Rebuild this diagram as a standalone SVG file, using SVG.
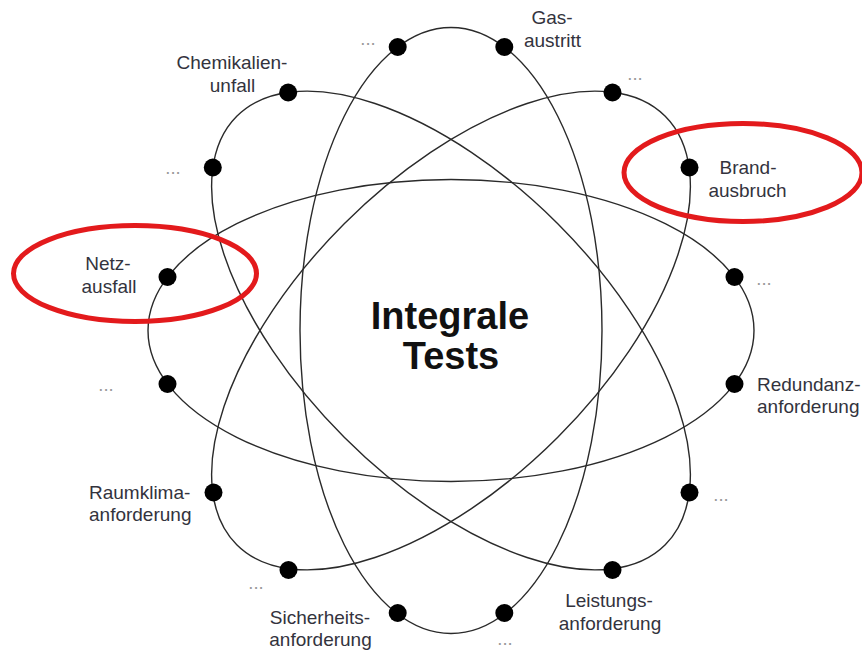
<svg xmlns="http://www.w3.org/2000/svg" width="862" height="650" viewBox="0 0 862 650">
  <style>
    .orbit { fill: none; stroke: #2a2a2a; stroke-width: 1.4; }
    .dot { fill: #000; }
    .lbl { font-family: "Liberation Sans", Arial, sans-serif; font-size: 19px; fill: #33333d; }
    .more { font-family: "Liberation Sans", Arial, sans-serif; font-size: 18.5px; fill: #9a9a9a; }
    .title { font-family: "Liberation Sans", Arial, sans-serif; font-size: 38px; font-weight: bold; fill: #111; text-anchor: middle; }
    .hl { fill: none; stroke: #e31a1c; stroke-width: 5; }
  </style>
  <rect width="862" height="650" fill="#fff"/>

  <g id="connectors">
    <ellipse class="orbit" cx="451" cy="330.5" rx="303" ry="151"/>
    <ellipse class="orbit" cx="451" cy="330.5" rx="303" ry="151" transform="rotate(90 451 330.5)"/>
    <ellipse class="orbit" cx="451" cy="330.5" rx="303" ry="151" transform="rotate(45 451 330.5)"/>
    <ellipse class="orbit" cx="451" cy="330.5" rx="303" ry="151" transform="rotate(135 451 330.5)"/>
  </g>

  <g id="title">
    <text class="title" x="450" y="328.5">Integrale</text>
    <text class="title" x="451" y="368.5">Tests</text>
  </g>

  <g id="netzausfall">
    <circle class="dot" cx="167.5" cy="277" r="9"/>
    <text class="lbl" x="108" y="270" text-anchor="middle">Netz-</text>
    <text class="lbl" x="109" y="293" text-anchor="middle">ausfall</text>
  </g>
  <g id="dots-left">
    <circle class="dot" cx="167.5" cy="384" r="9"/>
    <text class="more" x="106" y="391" text-anchor="middle">...</text>
  </g>
  <g id="dots-right">
    <circle class="dot" cx="734.5" cy="277" r="9"/>
    <text class="more" x="764" y="285" text-anchor="middle">...</text>
  </g>
  <g id="redundanz">
    <circle class="dot" cx="734.5" cy="384" r="9"/>
    <text class="lbl" x="757" y="391">Redundanz-</text>
    <text class="lbl" x="757" y="413">anforderung</text>
  </g>

  <g id="dots-top">
    <circle class="dot" cx="397.7" cy="47" r="9"/>
    <text class="more" x="368" y="45" text-anchor="middle">...</text>
  </g>
  <g id="gasaustritt">
    <circle class="dot" cx="504.3" cy="47" r="9"/>
    <text class="lbl" x="552" y="24" text-anchor="middle">Gas-</text>
    <text class="lbl" x="552.5" y="47" text-anchor="middle">austritt</text>
  </g>
  <g id="sicherheit">
    <circle class="dot" cx="397.7" cy="613" r="9"/>
    <text class="lbl" x="320" y="624" text-anchor="middle">Sicherheits-</text>
    <text class="lbl" x="320.5" y="646" text-anchor="middle">anforderung</text>
  </g>
  <g id="dots-bottom">
    <circle class="dot" cx="504.3" cy="613" r="9"/>
    <text class="more" x="505" y="645" text-anchor="middle">...</text>
  </g>

  <g id="chemikalien">
    <circle class="dot" cx="288.2" cy="92.5" r="9"/>
    <text class="lbl" x="232" y="69" text-anchor="middle">Chemikalien-</text>
    <text class="lbl" x="232.5" y="92" text-anchor="middle">unfall</text>
  </g>
  <g id="dots-upperleft">
    <circle class="dot" cx="212.8" cy="167.5" r="9"/>
    <text class="more" x="173" y="174" text-anchor="middle">...</text>
  </g>
  <g id="leistung">
    <circle class="dot" cx="612.5" cy="570" r="9"/>
    <text class="lbl" x="609" y="607" text-anchor="middle">Leistungs-</text>
    <text class="lbl" x="610" y="630" text-anchor="middle">anforderung</text>
  </g>
  <g id="dots-lowerright">
    <circle class="dot" cx="689.5" cy="492.5" r="9"/>
    <text class="more" x="721" y="501" text-anchor="middle">...</text>
  </g>

  <g id="dots-upperright">
    <circle class="dot" cx="612.5" cy="92.5" r="9"/>
    <text class="more" x="635" y="80" text-anchor="middle">...</text>
  </g>
  <g id="brandausbruch">
    <circle class="dot" cx="689.5" cy="167.5" r="9"/>
    <text class="lbl" x="748" y="174" text-anchor="middle">Brand-</text>
    <text class="lbl" x="747.5" y="197" text-anchor="middle">ausbruch</text>
  </g>
  <g id="dots-lowerleft">
    <circle class="dot" cx="288.5" cy="570" r="9"/>
    <text class="more" x="256" y="589" text-anchor="middle">...</text>
  </g>
  <g id="raumklima">
    <circle class="dot" cx="213.5" cy="492.5" r="9"/>
    <text class="lbl" x="89" y="499">Raumklima-</text>
    <text class="lbl" x="89" y="521">anforderung</text>
  </g>

  <g id="highlights">
    <ellipse class="hl" cx="135" cy="273.5" rx="121.5" ry="48"/>
    <ellipse class="hl" cx="743" cy="172.5" rx="119" ry="49"/>
  </g>
</svg>
